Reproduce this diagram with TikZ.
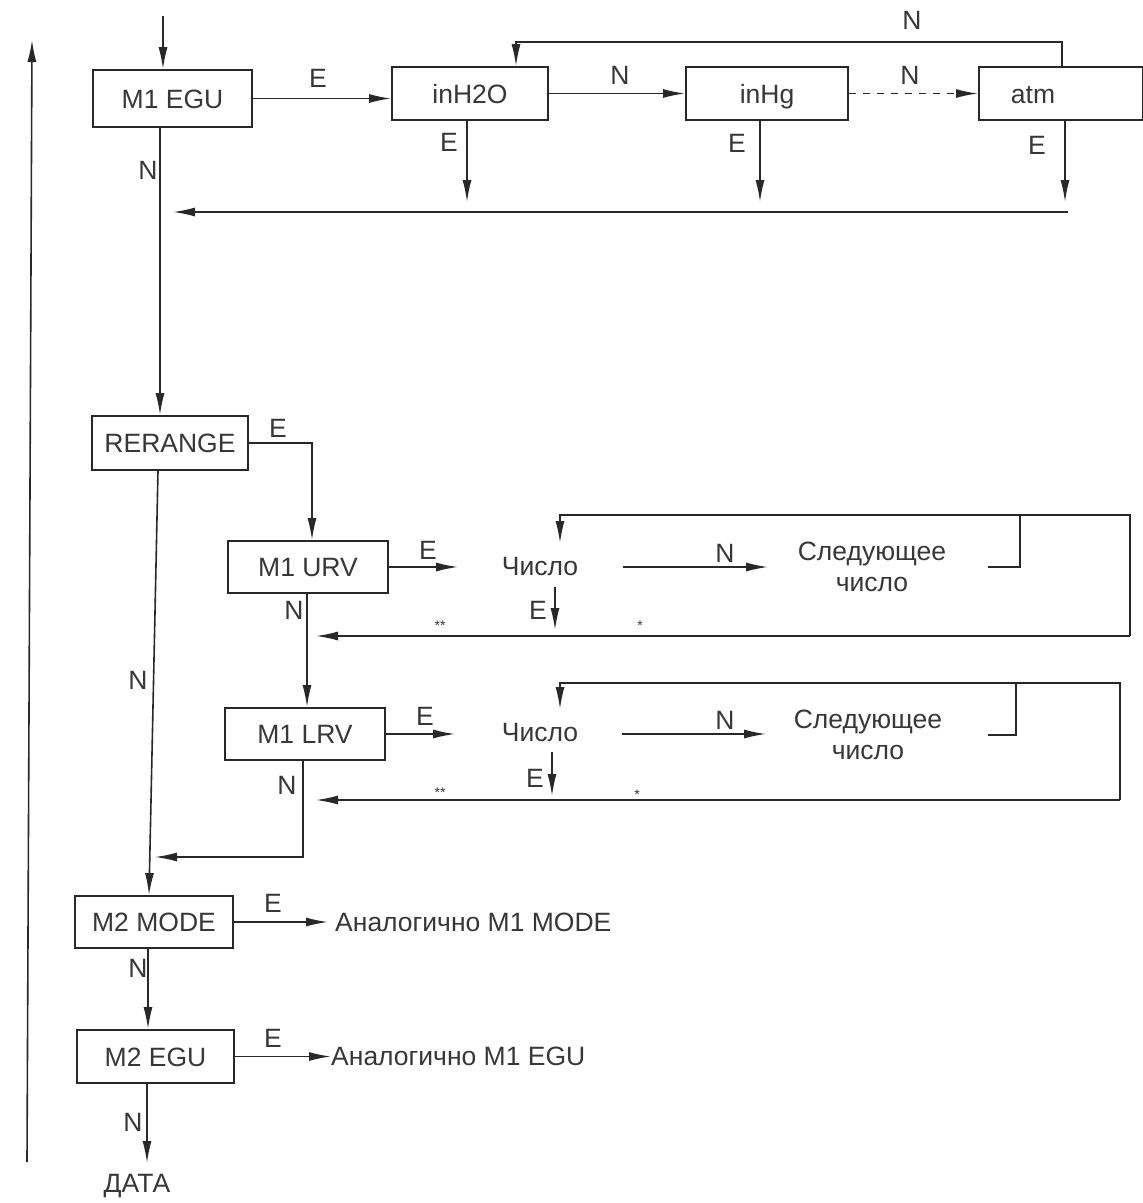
\documentclass[tikz,border=0pt]{standalone}
\usepackage{fontspec}
\setmainfont{Liberation Sans}
\usetikzlibrary{arrows.meta,calc}
\definecolor{ink}{RGB}{40,40,40}
\definecolor{txt}{RGB}{55,55,55}
\tikzset{
  every node/.style={font=\fontsize{26.5}{31}\selectfont, text=txt},
  box/.style={draw=ink, line width=1.9pt, inner sep=0pt, text height=19pt, text depth=0pt},
  lbl/.style={inner sep=0pt},
  plain/.style={inner sep=2pt},
  arr/.style={draw=ink, line width=1.6pt, -{Latex[length=22pt,width=9pt]}},
  ln/.style={draw=ink, line width=1.6pt},
}
\begin{document}
\begin{tikzpicture}[x=1pt,y=-1pt]
\useasboundingbox (0,0) rectangle (1143,1203);
% ---------- boxes ----------
\node[box, minimum width=159pt, minimum height=57pt] (egu1) at (172.5,98.5) {M1 EGU};
\node[box, minimum width=156pt, minimum height=53pt] (h2o) at (470,93.5) {inH2O};
\node[box, minimum width=162pt, minimum height=53pt] (hg) at (767,93.5) {inHg};
\node[box, anchor=west, text width=100pt, inner xsep=32pt, minimum height=53pt, align=left] (atm) at (978,93.5) {atm};
\node[box, minimum width=156pt, minimum height=54pt] (rer) at (170,443) {RERANGE};
\node[box, minimum width=160pt, minimum height=52pt] (urv) at (308,567) {M1 URV};
\node[box, minimum width=160pt, minimum height=52pt] (lrv) at (305,734) {M1 LRV};
\node[box, minimum width=158pt, minimum height=52pt] (mode2) at (154,922) {M2 MODE};
\node[box, minimum width=157pt, minimum height=53pt] (egu2) at (155.5,1056.5) {M2 EGU};
% ---------- free texts ----------
\node[plain] (num1) at (540,567) {Число};
\node[plain, align=center] (next1) at (872,567) {Следующее\\число};
\node[plain] (num2) at (540,733) {Число};
\node[plain, align=center] (next2) at (868,735) {Следующее\\число};
\node[plain, anchor=west] (ana1) at (333,922) {Аналогично M1 MODE};
\node[plain, anchor=west] (ana2) at (329,1056.5) {Аналогично M1 EGU};
\node[plain] (data) at (137,1186) {ДАТА};
% ---------- coordinates ----------
\coordinate (inTop) at (163,16);
\coordinate (upBot) at (27,1162);
\coordinate (upTop) at (32,40);
\coordinate (loopR) at (1062,42);
\coordinate (loopL) at (516,42);
\coordinate (eA) at (467,202);
\coordinate (eB) at (760,202);
\coordinate (eC) at (1065,202);
\coordinate (retR) at (1068,212);
\coordinate (retL) at (173,212);
\coordinate (rerC) at (312,443);
% URV row
\coordinate (u1) at (458,567);
\coordinate (uN1) at (623,567);
\coordinate (uN2) at (768,567);
\coordinate (uB1) at (988,567);
\coordinate (uB2) at (1020,515);
\coordinate (uRB) at (1130,636);
\coordinate (uTop) at (560,515);
\coordinate (uTip) at (560,543);
\coordinate (uEnd) at (316,636);
\coordinate (uE1) at (555,587);
\coordinate (uE2) at (555,630);
% LRV row
\coordinate (l1) at (455,734);
\coordinate (lN1) at (622,734);
\coordinate (lN2) at (766,734);
\coordinate (lB1) at (988,735);
\coordinate (lB2) at (1016,683);
\coordinate (lRB) at (1120,800);
\coordinate (lTop) at (560,683);
\coordinate (lTip) at (560,709);
\coordinate (lEnd) at (316,800);
\coordinate (lE1) at (552,752);
\coordinate (lE2) at (552,796);
\coordinate (lJ) at (303,857);
\coordinate (lJend) at (155,857);
\coordinate (m1) at (328,922);
\coordinate (m2) at (331,1056.5);
\coordinate (dEnd) at (147,1163);
% ---------- connectors: top ----------
\draw[arr] (inTop) -- (inTop |- egu1.north);
\draw[arr] (upBot) -- (upTop);
\draw[arr] (egu1.east) -- (egu1.east -| h2o.west);
\draw[arr] (h2o.east) -- (hg.west);
\draw[arr, dash pattern=on 7pt off 7pt] (hg.east) -- (atm.west);
\draw[arr] (loopR |- atm.north) -- (loopR) -- (loopL) -- (loopL |- h2o.north);
\draw[arr] (eA |- h2o.south) -- (eA);
\draw[arr] (eB |- hg.south) -- (eB);
\draw[arr] (eC |- atm.south) -- (eC);
\draw[arr] (retR) -- (retL);
\draw[arr] (egu1.south -| 160,0) -- (rer.north -| 160,0);
% ---------- RERANGE ----------
\draw[arr] (rer.east) -- (rerC) -- (rerC |- urv.north);
\draw[arr] (rer.south -| 158,0) -- (mode2.north -| 149,0);
% ---------- URV row ----------
\draw[arr] (urv.east) -- (u1);
\draw[arr] (uN1) -- (uN2);
\draw[ln] (uB1) -| (uB2);
\draw[arr] (uRB) |- (uTop) -- (uTip);
\draw[arr] (uRB) -- (uEnd);
\draw[arr] (uE1) -- (uE2);
\draw[arr] (urv.south -| 307,0) -- (lrv.north -| 307,0);
% ---------- LRV row ----------
\draw[arr] (lrv.east) -- (l1);
\draw[arr] (lN1) -- (lN2);
\draw[ln] (lB1) -| (lB2);
\draw[arr] (lRB) |- (lTop) -- (lTip);
\draw[arr] (lRB) -- (lEnd);
\draw[arr] (lE1) -- (lE2);
\draw[arr] (lrv.south -| lJ) -- (lJ) -- (lJend);
% ---------- M2 ----------
\draw[arr] (mode2.east) -- (m1);
\draw[arr] (mode2.south -| 148,0) -- (egu2.north -| 148,0);
\draw[arr] (egu2.east) -- (m2);
\draw[arr] (egu2.south -| dEnd) -- (dEnd);
% ---------- labels ----------
\node[lbl] (tE1) at (318,78) {E};
\node[lbl] (tN1) at (620,75) {N};
\node[lbl] (tN2) at (910,75) {N};
\node[lbl] (tN3) at (912,20) {N};
\node[lbl] (tE2) at (449,142) {E};
\node[lbl] (tE3) at (737,143) {E};
\node[lbl] (tE4) at (1037,145) {E};
\node[lbl] (tN4) at (148,170) {N};
\node[lbl] (tE5) at (278,428) {E};
\node[lbl] (tN5) at (138,680) {N};
\node[lbl] (tN6) at (294,610) {N};
\node[lbl] (tE6) at (428,550) {E};
\node[lbl] (tN7) at (725,553) {N};
\node[lbl] (tE7) at (538,610) {E};
\node[lbl, font=\fontsize{14}{16}\selectfont] (tS1) at (440,626) {**};
\node[lbl, font=\fontsize{14}{16}\selectfont] (tS2) at (640,626) {*};
\node[lbl] (tE8) at (425,716) {E};
\node[lbl] (tN8) at (725,720) {N};
\node[lbl] (tE9) at (535,778) {E};
\node[lbl, font=\fontsize{14}{16}\selectfont] (tS3) at (440,793) {**};
\node[lbl, font=\fontsize{14}{16}\selectfont] (tS4) at (637,795) {*};
\node[lbl] (tN9) at (287,785) {N};
\node[lbl] (tE10) at (273,903) {E};
\node[lbl] (tN10) at (138,968) {N};
\node[lbl] (tE11) at (273,1038) {E};
\node[lbl] (tN11) at (133,1122) {N};
\end{tikzpicture}
\end{document}
